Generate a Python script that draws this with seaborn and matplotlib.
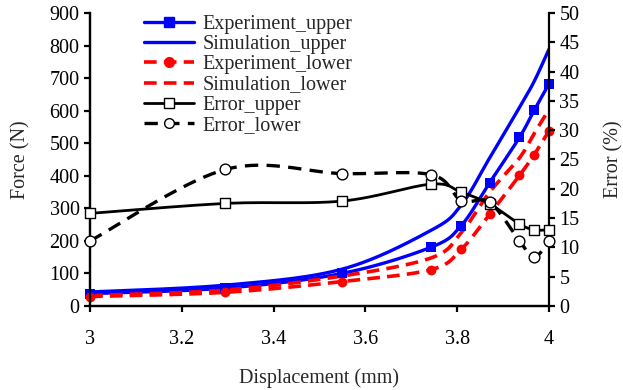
import numpy as np
import pandas as pd
import matplotlib
matplotlib.use('Agg')
import matplotlib.pyplot as plt
import seaborn as sns
from matplotlib.lines import Line2D

# Data
disp = [3.0, 3.295, 3.549, 3.744, 3.809, 3.871, 3.936, 3.968, 4.0]
exp_upper = [38, 55, 100, 181, 247, 379, 518, 601, 682]
sim_upper = [43, 64, 113, 233, 310, 455, 610, 690, 788]
exp_lower = [29, 42, 75, 112, 174, 282, 401, 465, 537]
sim_lower = [32, 49, 92, 148, 225, 350, 455, 530, 603]
err_upper = [15.8, 17.5, 17.9, 20.8, 19.4, 17.4, 14.0, 13.0, 13.0]
err_lower = [11.1, 23.3, 22.6, 22.4, 18.0, 17.7, 11.1, 8.3, 11.1]

x_ticks = [3, 3.2, 3.4, 3.6, 3.8, 4]
x_tick_labels = ['3', '3.2', '3.4', '3.6', '3.8', '4']


def smooth(x, y, ymax, n=40):
    # Excel-style smoothed line: Bezier through points, built in screen-like space
    xs = (np.asarray(x) - 3.0) * 459.0
    ys = np.asarray(y, dtype=float) * 293.0 / ymax
    pts = np.column_stack([xs, ys])
    out = []
    for i in range(len(pts) - 1):
        p0 = pts[i - 1] if i > 0 else pts[i]
        p1, p2 = pts[i], pts[i + 1]
        p3 = pts[i + 2] if i + 2 < len(pts) else pts[i + 1]
        c1 = p1 + (p2 - p0) / 6.0
        c2 = p2 - (p3 - p1) / 6.0
        t = np.linspace(0, 1, n)[:, None]
        seg = ((1 - t) ** 3) * p1 + 3 * ((1 - t) ** 2) * t * c1 + 3 * (1 - t) * t ** 2 * c2 + t ** 3 * p2
        out.append(seg if i == 0 else seg[1:])
    out = np.vstack(out)
    return pd.DataFrame({'x': out[:, 0] / 459.0 + 3.0, 'y': out[:, 1] * ymax / 293.0})


sns.set_style('ticks')
plt.rcParams['font.family'] = ['Liberation Serif', 'DejaVu Serif']
fs = 14.5
plt.rcParams['font.size'] = fs

fig, ax = plt.subplots(figsize=(6.23, 3.9), dpi=100)
fig.subplots_adjust(left=0.1445, right=0.881, bottom=0.2154, top=0.9667)
ax2 = ax.twinx()

blue = '#0000ff'
red = '#ff0000'

# force curves
d = smooth(disp, sim_upper, 900)
sns.lineplot(data=d, x='x', y='y', ax=ax, color=blue, lw=2.4, sort=False, estimator=None)
d = smooth(disp, exp_upper, 900)
sns.lineplot(data=d, x='x', y='y', ax=ax, color=blue, lw=2.4, sort=False, estimator=None)
d = smooth(disp, sim_lower, 900)
sns.lineplot(data=d, x='x', y='y', ax=ax, color=red, lw=2.6, sort=False, estimator=None,
             linestyle=(0, (3.5, 2)))
d = smooth(disp, exp_lower, 900)
sns.lineplot(data=d, x='x', y='y', ax=ax, color=red, lw=2.6, sort=False, estimator=None,
             linestyle=(0, (3.5, 2)))
sns.scatterplot(x=disp, y=exp_upper, ax=ax, color=blue, marker='s', s=50, linewidth=0, zorder=3,
                clip_on=False)
sns.scatterplot(x=disp, y=exp_lower, ax=ax, color=red, marker='o', s=50, linewidth=0, zorder=3,
                clip_on=False)

# error curves
d = smooth(disp, err_upper, 50)
sns.lineplot(data=d, x='x', y='y', ax=ax2, color='black', lw=2.0, sort=False, estimator=None)
d = smooth(disp, err_lower, 50)
sns.lineplot(data=d, x='x', y='y', ax=ax2, color='black', lw=2.4, sort=False, estimator=None,
             linestyle=(0, (4, 2.5)))
sns.scatterplot(x=disp, y=err_upper, ax=ax2, marker='s', s=60, facecolor='white',
                edgecolor='black', linewidth=1.0, zorder=4, clip_on=False)
sns.scatterplot(x=disp, y=err_lower, ax=ax2, marker='o', s=60, facecolor='white',
                edgecolor='black', linewidth=1.0, zorder=4, clip_on=False)

ax.set_xlim(3, 4)
ax.set_ylim(0, 900)
ax.set_yticks(range(0, 901, 100))
ax.set_xticks(x_ticks)
ax.set_xticklabels(x_tick_labels)
ax2.set_ylim(0, 50)
ax2.set_yticks(range(0, 51, 5))

ax.set_xlabel('Displacement (mm)', fontsize=fs, labelpad=14)
ax.set_ylabel('Force (N)', fontsize=fs, labelpad=14)
ax2.set_ylabel('Error (%)', fontsize=fs, rotation=90, labelpad=18)

for a in (ax, ax2):
    a.spines['top'].set_visible(False)
    for s in a.spines.values():
        s.set_linewidth(1.6)
        s.set_color('black')
    a.tick_params(direction='out', length=4, width=1.6, labelsize=fs, colors='black')
ax.tick_params(axis='x', pad=13)
ax.spines['right'].set_visible(False)

handles = [
    Line2D([], [], color=blue, lw=2.4, marker='s', ms=7, mec=blue),
    Line2D([], [], color=blue, lw=2.4),
    Line2D([], [], color=red, lw=2.6, ls=(0, (3.5, 2)), marker='o', ms=7),
    Line2D([], [], color=red, lw=2.6, ls=(0, (3.5, 2))),
    Line2D([], [], color='black', lw=2.0, marker='s', ms=7, mfc='white', mec='black'),
    Line2D([], [], color='black', lw=2.4, ls=(0, (4, 2.5)), marker='o', ms=7, mfc='white', mec='black'),
]
labels = ['Experiment_upper', 'Simulation_upper', 'Experiment_lower', 'Simulation_lower',
          'Error_upper', 'Error_lower']
if ax.get_legend() is not None:
    ax.get_legend().remove()
if ax2.get_legend() is not None:
    ax2.get_legend().remove()
ax2.legend(handles, labels, loc='upper left', bbox_to_anchor=(0.1, 1.02), frameon=False,
           fontsize=fs, handlelength=2.5, labelspacing=0.05, handletextpad=0.4, borderaxespad=0)

fig.savefig('out.png', dpi=100)
